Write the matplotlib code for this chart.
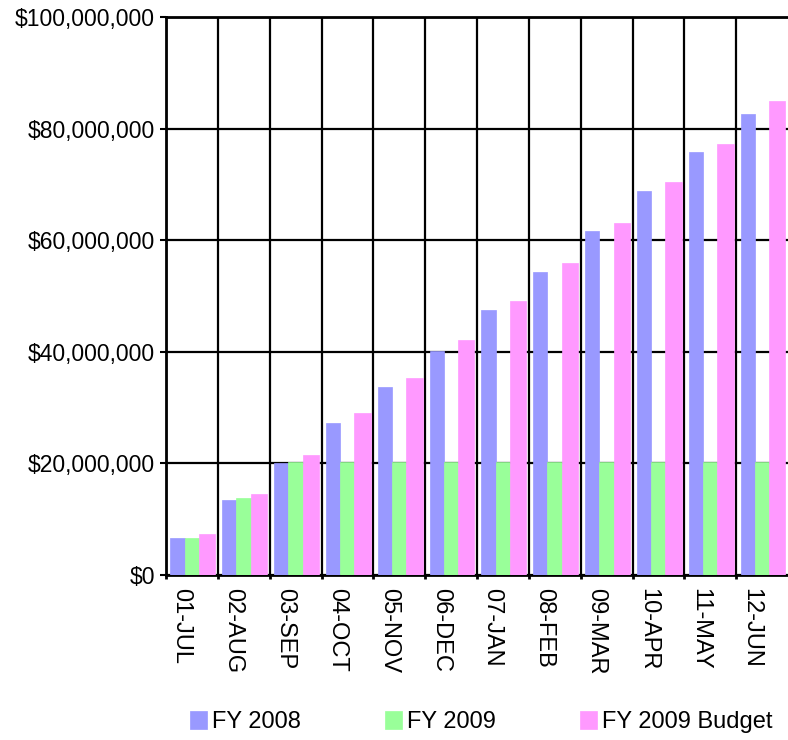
import matplotlib
matplotlib.use("Agg")
import matplotlib.pyplot as plt
import numpy as np
from matplotlib.ticker import FuncFormatter, MultipleLocator

categories = ["01-JUL", "02-AUG", "03-SEP", "04-OCT", "05-NOV", "06-DEC",
              "07-JAN", "08-FEB", "09-MAR", "10-APR", "11-MAY", "12-JUN"]
fy2008 = [6.6e6, 13.4e6, 20.0e6, 27.2e6, 33.7e6, 40.2e6,
          47.5e6, 54.35e6, 61.6e6, 68.9e6, 75.75e6, 82.6e6]
fy2009 = [6.6e6, 13.8e6, 20.3e6, 20.3e6, 20.3e6, 20.3e6,
          20.3e6, 20.3e6, 20.3e6, 20.3e6, 20.3e6, 20.3e6]
fy2009_budget = [7.3e6, 14.6e6, 21.5e6, 29.1e6, 35.25e6, 42.05e6,
                 49.05e6, 55.85e6, 63.15e6, 70.4e6, 77.3e6, 84.9e6]
series_names = ["FY 2008", "FY 2009", "FY 2009 Budget"]
colors = ["#9999FF", "#99FF99", "#FF99FF"]

plt.rcParams['font.family'] = ['Liberation Sans', 'DejaVu Sans']

fig = plt.figure(figsize=(7.88, 7.40), dpi=100)
ax = fig.add_axes([166/788, 1-575/740, 1-166/788, (575-17)/740])

x = np.arange(len(categories))
offsets = [0.085, 0.36, 0.635]
widths = [0.275, 0.275, 0.315]
for vals, name, col, off, w in zip([fy2008, fy2009, fy2009_budget], series_names, colors, offsets, widths):
    ax.bar(x + off, vals, width=w, align='edge', color=col, label=name,
           edgecolor=col, linewidth=0.5, zorder=3)

ax.set_xlim(0, len(categories))
ax.set_ylim(0, 100e6)
ax.yaxis.set_major_locator(MultipleLocator(20e6))
ax.yaxis.set_major_formatter(FuncFormatter(lambda v, p: "${:,.0f}".format(v)))

ax.set_xticks(x)
ax.set_xticklabels([])
ax.set_xticks(x + 0.3, minor=True)
ax.set_xticklabels(categories, minor=True, rotation=270, fontsize=17, va='top', ha='center')
ax.tick_params(axis='x', which='major', direction='out', length=3, width=2, color='black')
ax.tick_params(axis='x', which='minor', length=0, pad=9)
ax.tick_params(axis='y', direction='out', length=4, width=1.5, labelsize=16.5, pad=4)

ax.grid(True, which='major', color='black', linewidth=1.6, zorder=1)
ax.set_axisbelow(True)
for s in ['left', 'top', 'bottom']:
    ax.spines[s].set_linewidth(2)
    ax.spines[s].set_color('black')
ax.spines['right'].set_visible(False)

fig.legend(loc='center', bbox_to_anchor=(481.5/788, 1-722/740), ncol=3, frameon=False,
           fontsize=17, handlelength=0.72, handleheight=0.8, handletextpad=0.22,
           columnspacing=3.55, borderaxespad=0, borderpad=0)

fig.savefig("out.png", dpi=100)
